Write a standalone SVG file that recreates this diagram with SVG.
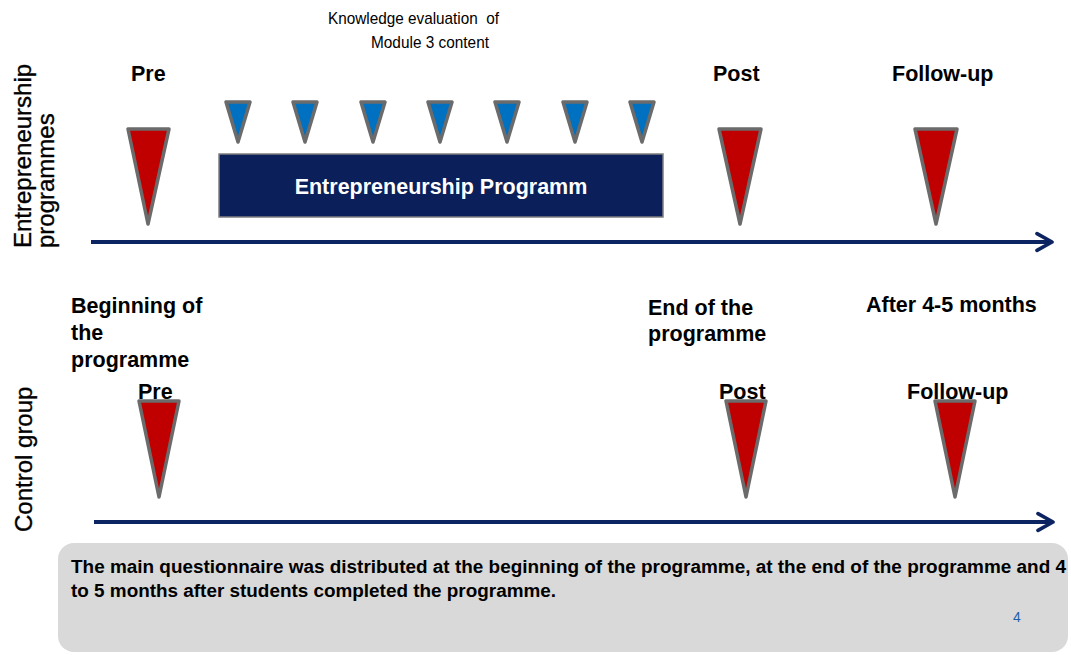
<svg xmlns="http://www.w3.org/2000/svg" width="1071" height="655" viewBox="0 0 1071 655">
<style>
.lbl{font-family:"Liberation Sans",Arial,sans-serif;font-weight:bold;font-size:21.5px;fill:#000}
.side{font-family:"Liberation Sans",Arial,sans-serif;font-size:24px;fill:#000;stroke:#000;stroke-width:0.35}
.red{fill:#C00000;stroke:#6B6B6B;stroke-width:3.5;stroke-linejoin:round}
.blue{fill:#0070C0;stroke:#6B6B6B;stroke-width:3.5;stroke-linejoin:round}
.axis{stroke:#0D2462;stroke-width:4;fill:none}
.note{font-family:"Liberation Sans",Arial,sans-serif;font-weight:bold;font-size:18px;fill:#000}
.small{font-family:"Liberation Sans",Arial,sans-serif;font-size:17px;fill:#000}
</style>
<defs>
<marker id="arr" viewBox="0 0 12 12" refX="10" refY="6" markerWidth="5" markerHeight="6" markerUnits="strokeWidth" orient="auto">
<path d="M1,1 L10,6 L1,11" fill="none" stroke="#0D2462" stroke-width="2.2" stroke-linecap="round" stroke-linejoin="round"/>
</marker>
</defs>
<rect width="1071" height="655" fill="#fff"/>

<g id="side-labels">
<text class="side" transform="translate(31,248) rotate(-90)">Entrepreneurship</text>
<text class="side" transform="translate(54,248) rotate(-90)">programmes</text>
<text class="side" transform="translate(32,532) rotate(-90)">Control group</text>
</g>

<g id="knowledge-label">
<text class="small" x="328" y="24" textLength="171" lengthAdjust="spacingAndGlyphs" xml:space="preserve">Knowledge evaluation  of</text>
<text class="small" x="371" y="48" textLength="118" lengthAdjust="spacingAndGlyphs">Module 3 content</text>
</g>

<g id="connectors">
<line class="axis" x1="91" y1="242" x2="1052" y2="242" marker-end="url(#arr)"/>
<line class="axis" x1="94" y1="522" x2="1053" y2="522" marker-end="url(#arr)"/>
</g>

<g id="programme">
<rect x="219" y="154" width="444" height="63" fill="#0B1F5B" stroke="#7F7F7F" stroke-width="1.5"/>
<text x="441" y="194" text-anchor="middle" font-family="Liberation Sans, Arial, sans-serif" font-weight="bold" font-size="21.5" fill="#fff">Entrepreneurship Programm</text>
</g>

<g id="module-evals">
<polygon class="blue" points="226,102 250,102 238,142"/>
<polygon class="blue" points="293,102 317,102 305,142"/>
<polygon class="blue" points="361,102 385,102 373,142"/>
<polygon class="blue" points="428,102 452,102 440,142"/>
<polygon class="blue" points="495,102 519,102 507,142"/>
<polygon class="blue" points="563,102 587,102 575,142"/>
<polygon class="blue" points="630,102 654,102 642,142"/>
</g>

<g id="ep-pre">
<text class="lbl" x="131" y="81">Pre</text>
<polygon class="red" points="128,129 169,129 148,224"/>
</g>
<g id="ep-post">
<text class="lbl" x="713" y="81">Post</text>
<polygon class="red" points="719,129 761,129 740,224"/>
</g>
<g id="ep-follow">
<text class="lbl" x="892" y="81">Follow-up</text>
<polygon class="red" points="915,129 957,129 936,224"/>
</g>

<g id="time-labels">
<text class="lbl" x="71" y="313">Beginning of</text>
<text class="lbl" x="71" y="340">the</text>
<text class="lbl" x="71" y="367">programme</text>
<text class="lbl" x="648" y="315">End of the</text>
<text class="lbl" x="648" y="341">programme</text>
<text class="lbl" x="866" y="312">After 4-5 months</text>
</g>

<g id="cg-pre">
<polygon class="red" points="139,401 179,401 159,497"/>
<text class="lbl" x="138" y="399">Pre</text>
</g>
<g id="cg-post">
<polygon class="red" points="726,401 766,401 746,497"/>
<text class="lbl" x="719" y="399">Post</text>
</g>
<g id="cg-follow">
<polygon class="red" points="935,401 975,401 955,497"/>
<text class="lbl" x="907" y="399">Follow-up</text>
</g>

<g id="note">
<rect x="58" y="543" width="1010" height="109" rx="16" ry="16" fill="#D9D9D9"/>
<text class="note" x="71" y="573" textLength="995" lengthAdjust="spacingAndGlyphs">The main questionnaire was distributed at the beginning of the programme, at the end of the programme and 4</text>
<text class="note" x="71" y="597" textLength="485" lengthAdjust="spacingAndGlyphs">to 5 months after students completed the programme.</text>
<text x="1013" y="622" font-family="Liberation Sans, Arial, sans-serif" font-size="14" fill="#1F5FA8">4</text>
</g>
</svg>
